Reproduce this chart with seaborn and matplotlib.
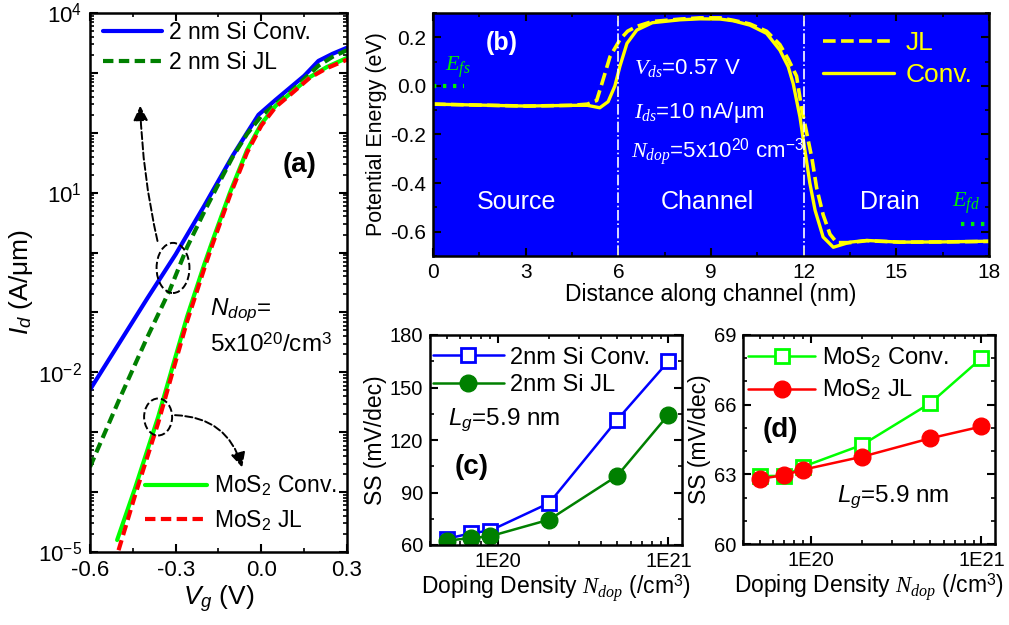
import numpy as np
import matplotlib
matplotlib.use("Agg")
import matplotlib.pyplot as plt
import seaborn as sns
from matplotlib.patches import Ellipse
from matplotlib.ticker import (LogLocator, MultipleLocator, FixedLocator,
                               FuncFormatter, FormatStrFormatter, NullFormatter)

# (a) Id-Vg curves, values as log10(Id / (A/um))
vg_si_conv = [-0.6, -0.5, -0.4, -0.3, -0.2, -0.1, -0.05, -0.01, 0.05, 0.1, 0.15, 0.2, 0.25, 0.3]
logid_si_conv = [-2.29, -1.53, -0.77, -0.03, 0.78, 1.62, 2.0, 2.3, 2.55, 2.75, 2.95, 3.2, 3.32, 3.42]

vg_si_jl = [-0.6, -0.5, -0.4, -0.32, -0.26, -0.2, -0.155, -0.1, -0.05, 0.0, 0.05, 0.1, 0.15, 0.2, 0.25, 0.3]
logid_si_jl = [-3.58, -2.48, -1.42, -0.62, 0.09, 0.68, 1.1, 1.6, 1.98, 2.28, 2.48, 2.67, 2.9, 3.12, 3.27, 3.38]

vg_mos2_conv = [-0.505, -0.442, -0.361, -0.314, -0.26, -0.2, -0.17, -0.11, -0.05, 0.0, 0.05, 0.1, 0.17, 0.23, 0.3]
logid_mos2_conv = [-4.8, -3.93, -2.74, -1.96, -1.07, -0.2, 0.21, 1.0, 1.71, 2.15, 2.45, 2.65, 2.93, 3.1, 3.25]

vg_mos2_jl = [-0.5, -0.442, -0.361, -0.314, -0.26, -0.2, -0.17, -0.11, -0.05, 0.0, 0.05, 0.1, 0.17, 0.23, 0.3]
logid_mos2_jl = [-4.97, -4.05, -2.84, -2.05, -1.15, -0.27, 0.15, 0.95, 1.67, 2.12, 2.43, 2.63, 2.92, 3.08, 3.22]

# (b) potential energy along the channel (eV)
x_conv = [0, 1.5, 3, 4.5, 5.0, 5.4, 5.67, 5.89, 6.05, 6.28, 6.6, 7.1, 8.0, 8.64, 9.3, 9.72,
          10.26, 10.8, 11.23, 11.5, 11.66, 11.88, 12.04, 12.2, 12.37, 12.63, 12.96, 13.5,
          14.04, 15.12, 16.5, 18]
e_conv = [-0.075, -0.079, -0.083, -0.08, -0.08, -0.09, -0.065, 0.0, 0.08, 0.175, 0.23, 0.26,
          0.272, 0.276, 0.275, 0.268, 0.25, 0.216, 0.147, 0.079, 0.01, -0.128, -0.265, -0.40,
          -0.512, -0.622, -0.664, -0.643, -0.636, -0.643, -0.642, -0.639]
x_jl = [0, 1.5, 3, 4.5, 5.0, 5.3, 5.47, 5.73, 6.05, 6.3, 6.6, 7.1, 8.0, 8.64, 9.3, 9.72, 10.26,
        10.8, 11.23, 11.5, 11.77, 11.93, 12.1, 12.27, 12.42, 12.63, 12.85, 13.07, 13.5, 14.04,
        15.12, 16.5, 18]
e_jl = [-0.075, -0.079, -0.083, -0.08, -0.075, -0.06, 0.01, 0.12, 0.19, 0.225, 0.245, 0.265,
        0.275, 0.28, 0.28, 0.27, 0.255, 0.225, 0.17, 0.11, 0.04, -0.09, -0.195, -0.3, -0.42,
        -0.53, -0.61, -0.645, -0.645, -0.637, -0.643, -0.642, -0.64]
junctions = [6, 12]
efs_level = 0.0
efd_level = -0.57

# (c), (d) subthreshold swing vs doping
ndop = [5e19, 7e19, 9e19, 2e20, 5e20, 1e21]
ss_si_conv = [63.5, 66.8, 68.2, 84.0, 131.5, 165.0]
ss_si_jl = [62.5, 64.0, 65.0, 74.5, 99.5, 134.5]
ss_mos2_conv = [62.93, 62.93, 63.33, 64.27, 66.06, 68.0]
ss_mos2_jl = [62.8, 62.97, 63.2, 63.76, 64.55, 65.06]

sns.set_theme(style="ticks")
plt.rcParams.update({
    "font.family": ["Liberation Sans", "DejaVu Sans"],
    "mathtext.fontset": "custom",
    "mathtext.rm": "Liberation Sans",
    "mathtext.it": "Liberation Serif:italic",
    "mathtext.sf": "Liberation Sans:italic",
    "mathtext.bf": "Liberation Sans:bold",
    "axes.unicode_minus": False,
    "axes.edgecolor": "black",
    "axes.linewidth": 1.8,
    "xtick.direction": "in", "ytick.direction": "in",
    "xtick.top": True, "ytick.right": True,
    "xtick.major.size": 6, "ytick.major.size": 6,
    "xtick.minor.size": 3, "ytick.minor.size": 3,
    "xtick.major.width": 1.5, "ytick.major.width": 1.5,
    "xtick.minor.width": 1.2, "ytick.minor.width": 1.2,
    "xtick.color": "black", "ytick.color": "black",
    "text.color": "black", "axes.labelcolor": "black",
})

fig = plt.figure(figsize=(10.09, 6.25), dpi=100)
ax_a = fig.add_axes([0.0892, 0.1168, 0.2547, 0.8624])
ax_b = fig.add_axes([0.4291, 0.5904, 0.5511, 0.3888])
ax_c = fig.add_axes([0.4262, 0.128, 0.2497, 0.336])
ax_d = fig.add_axes([0.7364, 0.1296, 0.2497, 0.3344])

dash = (0, (2.5, 1.3))

# ---- (a)
sns.lineplot(x=vg_si_conv, y=10 ** np.array(logid_si_conv), ax=ax_a, color="#0000FF", lw=3,
             sort=False, errorbar=None, label="2 nm Si Conv.")
sns.lineplot(x=vg_si_jl, y=10 ** np.array(logid_si_jl), ax=ax_a, color="#008000", lw=3,
             linestyle=dash, sort=False, errorbar=None, label="2 nm Si JL")
sns.lineplot(x=vg_mos2_conv, y=10 ** np.array(logid_mos2_conv), ax=ax_a, color="#00FF00", lw=3,
             sort=False, errorbar=None, label="MoS$_2$ Conv.")
sns.lineplot(x=vg_mos2_jl, y=10 ** np.array(logid_mos2_jl), ax=ax_a, color="#FF0000", lw=3,
             linestyle=dash, sort=False, errorbar=None, label="MoS$_2$ JL")
ax_a.set_yscale("log")
ax_a.set_xlim(-0.6, 0.3)
ax_a.set_ylim(1e-5, 1e4)
ax_a.xaxis.set_major_locator(FixedLocator([-0.6, -0.3, 0.0, 0.3]))
ax_a.xaxis.set_minor_locator(MultipleLocator(0.15))
ax_a.xaxis.set_major_formatter(FormatStrFormatter("%.1f"))
ax_a.yaxis.set_major_locator(LogLocator(base=10, numticks=20))
ax_a.yaxis.set_minor_locator(LogLocator(base=10, subs=np.arange(2, 10), numticks=20))
ax_a.yaxis.set_minor_formatter(NullFormatter())
ax_a.yaxis.set_major_formatter(FuncFormatter(
    lambda v, p: "$10^{%d}$" % round(np.log10(v)) if round(np.log10(v)) in (-5, -2, 1, 4) else ""))
ax_a.tick_params(which="major", labelsize=16, pad=6)
ax_a.set_xlabel("$\\mathsf{V}_{\\mathsf{g}}$ (V)", fontsize=19, labelpad=2)
ax_a.set_ylabel("$\\mathsf{I}_{\\mathsf{d}}$ (A/μm)", fontsize=19, labelpad=2)

h, l = ax_a.get_legend_handles_labels()
leg1 = ax_a.legend(h[:2], l[:2], loc="upper left", bbox_to_anchor=(0.05, 0.985), frameon=False,
                   fontsize=16.5, handlelength=2.6, handletextpad=0.3, labelspacing=0.3,
                   borderpad=0, borderaxespad=0)
ax_a.add_artist(leg1)
ax_a.legend(h[2:], l[2:], loc="upper left", bbox_to_anchor=(0.214, 0.145), frameon=False,
            fontsize=16.5, handlelength=2.7, handletextpad=0.3, labelspacing=0.45,
            borderpad=0, borderaxespad=0)

ax_a.add_patch(Ellipse((0.323, 0.527), 0.128, 0.093, transform=ax_a.transAxes, fill=False,
                       ls="--", lw=1.4, ec="black", zorder=5))
ax_a.add_patch(Ellipse((0.265, 0.2505), 0.109, 0.0686, transform=ax_a.transAxes, fill=False,
                       ls="--", lw=1.4, ec="black", zorder=5))
ax_a.annotate("", xy=(0.195, 0.833), xytext=(0.265, 0.572), xycoords="axes fraction",
              arrowprops=dict(arrowstyle="-|>", ls="--", lw=1.4, color="black",
                              connectionstyle="arc3,rad=-0.05", mutation_scale=22))
ax_a.annotate("", xy=(0.595, 0.152), xytext=(0.32, 0.254), xycoords="axes fraction",
              arrowprops=dict(arrowstyle="-|>", ls="--", lw=1.4, color="black",
                              connectionstyle="arc3,rad=-0.38", mutation_scale=22))
ax_a.text(0.817, 0.718, "(a)", transform=ax_a.transAxes, fontsize=20, fontweight="bold",
          ha="center", va="center")
ax_a.text(0.467, 0.449, "$\\mathsf{N}_{\\mathsf{dop}}$=", transform=ax_a.transAxes,
          fontsize=17.5, ha="left", va="center")
ax_a.text(0.467, 0.384, "5x10$^{20}$/cm$^{3}$", transform=ax_a.transAxes,
          fontsize=17.5, ha="left", va="center")

# ---- (b)
ax_b.set_facecolor("#0000FF")
sns.lineplot(x=x_jl, y=e_jl, ax=ax_b, color="#FFFF00", lw=2.6, linestyle=(0, (3.5, 1.5)),
             sort=False, errorbar=None, label="JL")
sns.lineplot(x=x_conv, y=e_conv, ax=ax_b, color="#FFFF00", lw=2.4, sort=False,
             errorbar=None, label="Conv.")
for xj in junctions:
    ax_b.axvline(xj, color="white", lw=1.2, ls="-.")
ax_b.hlines(efs_level, 0, 1.0, color="#00EE00", lw=3, linestyles=(0, (0.8, 1.6)))
ax_b.hlines(efd_level, 17.1, 18, color="#00EE00", lw=3, linestyles=(0, (0.8, 1.6)))
ax_b.set_xlim(0, 18)
ax_b.set_ylim(-0.7, 0.3)
ax_b.xaxis.set_major_locator(MultipleLocator(3))
ax_b.xaxis.set_minor_locator(MultipleLocator(1.5))
ax_b.yaxis.set_major_locator(FixedLocator([-0.6, -0.4, -0.2, 0.0, 0.2]))
ax_b.yaxis.set_minor_locator(MultipleLocator(0.1))
ax_b.yaxis.set_major_formatter(FormatStrFormatter("%.1f"))
ax_b.tick_params(which="major", labelsize=15, pad=5)
ax_b.set_xlabel("Distance along channel (nm)", fontsize=16.5, labelpad=1)
ax_b.set_ylabel("Potential Energy (eV)", fontsize=15.5, labelpad=2)
ax_b.legend(loc="upper left", bbox_to_anchor=(0.701, 0.925), frameon=False, fontsize=19,
            handlelength=2.7, handletextpad=0.45, labelspacing=0.3, borderpad=0,
            borderaxespad=0, labelcolor="#FFFF00")
ax_b.text(2.23, 0.176, "(b)", fontsize=18, fontweight="bold", color="white", ha="center", va="center")
ax_b.text(6.5, 0.073, "$V_{ds}$=0.57 V", fontsize=16, color="white", ha="left", va="center")
ax_b.text(6.5, -0.108, "$I_{ds}$=10 nA/μm", fontsize=16, color="white", ha="left", va="center")
ax_b.text(6.4, -0.273, "$N_{dop}$=5x10$^{20}$ cm$^{-3}$", fontsize=16, color="white",
          ha="left", va="center")
ax_b.text(0.4, 0.077, "$E_{fs}$", fontsize=16, color="#00EE00", ha="left", va="center")
ax_b.text(16.8, -0.484, "$E_{fd}$", fontsize=16, color="#00EE00", ha="left", va="center")
ax_b.text(2.72, -0.479, "Source", fontsize=18, color="white", ha="center", va="center")
ax_b.text(8.87, -0.479, "Channel", fontsize=18, color="white", ha="center", va="center")
ax_b.text(14.8, -0.479, "Drain", fontsize=18, color="white", ha="center", va="center")

# ---- (c)
sns.lineplot(x=ndop, y=ss_si_conv, ax=ax_c, color="#0000FF", lw=1.8, marker="s", markersize=10,
             markerfacecolor="white", markeredgecolor="#0000FF", markeredgewidth=2,
             sort=False, errorbar=None, label="2nm Si Conv.")
sns.lineplot(x=ndop, y=ss_si_jl, ax=ax_c, color="#008000", lw=1.8, marker="o", markersize=12,
             markerfacecolor="#008000", markeredgecolor="#008000", markeredgewidth=1,
             sort=False, errorbar=None, label="2nm Si JL")
ax_c.set_ylim(60, 180)
ax_c.yaxis.set_major_locator(MultipleLocator(30))
ax_c.yaxis.set_minor_locator(MultipleLocator(15))
ax_c.legend(loc="upper left", bbox_to_anchor=(0.012, 0.945), frameon=False, fontsize=17,
            handlelength=3.0, handletextpad=0.25, labelspacing=0.25, borderpad=0, borderaxespad=0)
ax_c.text(0.071, 0.595, "$\\mathsf{L}_{\\mathsf{g}}$=5.9 nm", transform=ax_c.transAxes,
          fontsize=17.5, ha="left", va="center")
ax_c.text(0.167, 0.371, "(c)", transform=ax_c.transAxes, fontsize=20, fontweight="bold",
          ha="center", va="center")

# ---- (d)
sns.lineplot(x=ndop, y=ss_mos2_conv, ax=ax_d, color="#00FF00", lw=1.8, marker="s", markersize=10,
             markerfacecolor="white", markeredgecolor="#00FF00", markeredgewidth=2,
             sort=False, errorbar=None, label="MoS$_2$ Conv.")
sns.lineplot(x=ndop, y=ss_mos2_jl, ax=ax_d, color="#FF0000", lw=1.8, marker="o", markersize=12,
             markerfacecolor="#FF0000", markeredgecolor="#FF0000", markeredgewidth=1,
             sort=False, errorbar=None, label="MoS$_2$ JL")
ax_d.set_ylim(60, 69)
ax_d.yaxis.set_major_locator(MultipleLocator(3))
ax_d.yaxis.set_minor_locator(MultipleLocator(1))
ax_d.legend(loc="upper left", bbox_to_anchor=(0.02, 0.95), frameon=False, fontsize=17,
            handlelength=2.85, handletextpad=0.3, labelspacing=0.35, borderpad=0, borderaxespad=0)
ax_d.text(0.147, 0.545, "(d)", transform=ax_d.transAxes, fontsize=20, fontweight="bold",
          ha="center", va="center")
ax_d.text(0.373, 0.225, "$\\mathsf{L}_{\\mathsf{g}}$=5.9 nm", transform=ax_d.transAxes,
          fontsize=17.5, ha="left", va="center")

for ax in (ax_c, ax_d):
    ax.set_xscale("log")
    ax.set_xlim(4e19, 1.2e21)
    ax.xaxis.set_major_locator(FixedLocator([1e20, 1e21]))
    ax.xaxis.set_major_formatter(FuncFormatter(lambda v, p: "1E%d" % round(np.log10(v))))
    ax.xaxis.set_minor_locator(LogLocator(base=10, subs=np.arange(2, 10), numticks=20))
    ax.xaxis.set_minor_formatter(NullFormatter())
    ax.tick_params(which="major", labelsize=14.5, pad=5)
    ax.set_xlabel("Doping Density $N_{dop}$ (/cm$^{3}$)", fontsize=16.5, labelpad=1)
    ax.set_ylabel("SS (mV/dec)", fontsize=16.5, labelpad=2)

fig.savefig("out.png", dpi=100, facecolor="white")
